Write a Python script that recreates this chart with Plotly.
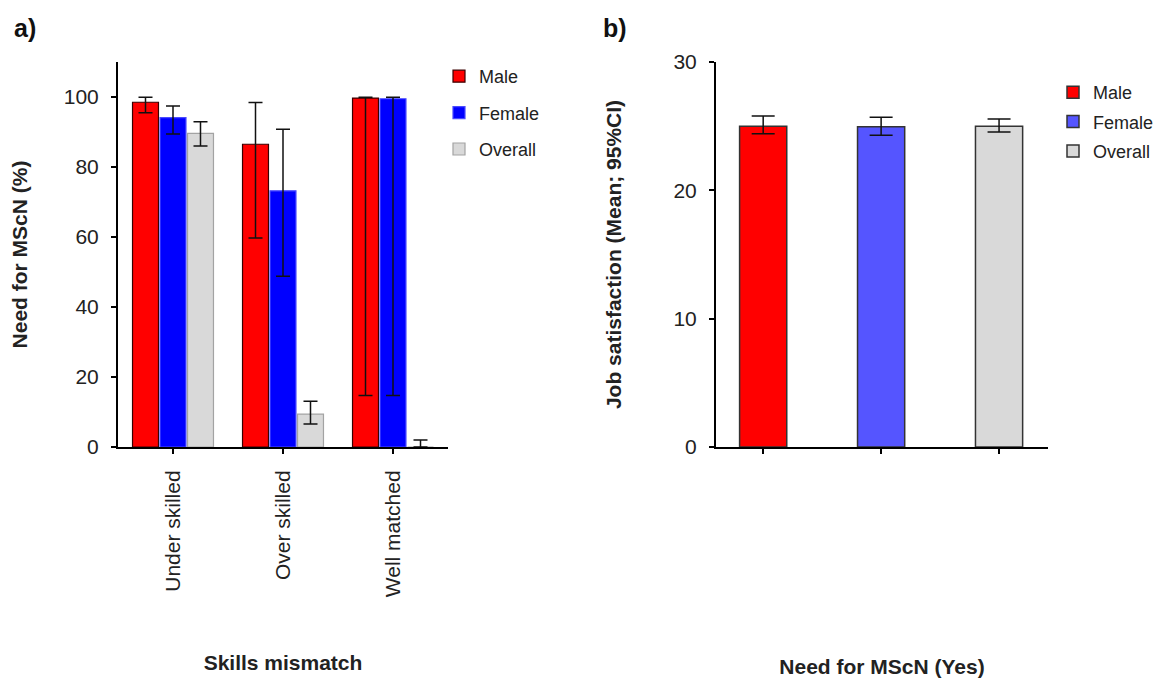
import plotly.graph_objects as go

# ---------------- data ----------------
categories_a = ["Under skilled", "Over skilled", "Well matched"]
male_a = [98.5, 86.5, 99.7]
male_a_lo = [95.5, 59.7, 14.7]
male_a_hi = [99.9, 98.4, 99.9]
female_a = [94.1, 73.2, 99.5]
female_a_lo = [89.4, 48.8, 14.7]
female_a_hi = [97.4, 90.8, 99.9]
overall_a = [89.6, 9.4, 0.0]
overall_a_lo = [86.0, 6.6, 0.0]
overall_a_hi = [92.9, 13.1, 2.0]

categories_b = ["Male", "Female", "Overall"]
mean_b = [25.0, 24.95, 25.0]
lo_b = [24.4, 24.3, 24.55]
hi_b = [25.8, 25.7, 25.55]

yticks_a = [0, 20, 40, 60, 80, 100]
yticks_b = [0, 10, 20, 30]

FONT = "Liberation Sans, Arial, Helvetica, sans-serif"
W, H = 1161, 686
PAGE_OFF = 8  # default page margin around the plot div

def px_x(p):
    return (p - PAGE_OFF) / W

def px_y(p):
    return 1 - (p - PAGE_OFF) / H

fig = go.Figure()

# ---------------- panel a ----------------
series_a = [
    ("Male", male_a, male_a_lo, male_a_hi, "#ff0000", "#3a0000", -0.368),
    ("Female", female_a, female_a_lo, female_a_hi, "#0000ff", "#4a4aff", -0.118),
    ("Overall", overall_a, overall_a_lo, overall_a_hi, "#d9d9d9", "#a3a3a3", 0.132),
]
for name, vals, lo, hi, col, edge, off in series_a:
    fig.add_trace(go.Bar(
        x=categories_a, y=vals, name=name,
        width=0.236, offset=off,
        marker=dict(color=col, line=dict(color=edge, width=1.2)),
        error_y=dict(type="data", symmetric=False,
                     array=[h - v for h, v in zip(hi, vals)],
                     arrayminus=[v - l for v, l in zip(vals, lo)],
                     color="#111111", thickness=1.5, width=7),
        xaxis="x", yaxis="y", legend="legend",
    ))

# ---------------- panel b ----------------
colors_b = ["#ff0000", "#5555ff", "#d9d9d9"]
for i, name in enumerate(categories_b):
    fig.add_trace(go.Bar(
        x=[categories_b[i]], y=[mean_b[i]], name=name,
        width=0.4, offset=-0.2,
        marker=dict(color=colors_b[i], line=dict(color="#333333", width=1.5)),
        error_y=dict(type="data", symmetric=False,
                     array=[hi_b[i] - mean_b[i]],
                     arrayminus=[mean_b[i] - lo_b[i]],
                     color="#111111", thickness=1.5, width=11.5),
        xaxis="x2", yaxis="y2", legend="legend2",
    ))

axis_common = dict(
    showline=True, linecolor="black", linewidth=2,
    ticks="outside", ticklen=5, tickwidth=2, tickcolor="black",
    showgrid=False, zeroline=False, automargin=False,
    tickfont=dict(family=FONT, size=21, color="#222222"),
)

fig.update_layout(
    width=W, height=H,
    margin=dict(l=0, r=0, t=0, b=0, autoexpand=False),
    paper_bgcolor="white", plot_bgcolor="white",
    barmode="group",
    font=dict(family=FONT, color="#222222"),
    xaxis=dict(
        domain=[px_x(118), px_x(448)], anchor="y",
        type="category", range=[-0.5, 2.5],
        tickangle=-90, ticklabelstandoff=8,
        title=dict(text="<b>Skills mismatch</b>", standoff=59,
                   font=dict(family=FONT, size=21, color="#222222")),
        **axis_common,
    ),
    yaxis=dict(
        domain=[px_y(447), px_y(62)], anchor="x",
        range=[0, 110], tickvals=yticks_a, ticklabelstandoff=8,
        title=dict(text="<b>Need for MScN (%)</b>", standoff=35,
                   font=dict(family=FONT, size=21, color="#222222")),
        **axis_common,
    ),
    xaxis2=dict(
        domain=[px_x(716), px_x(1048)], anchor="y2",
        type="category", range=[-0.4, 2.415],
        showticklabels=False,
        title=dict(text="<b>Need for MScN (Yes)</b>", standoff=206,
                   font=dict(family=FONT, size=21, color="#222222")),
        **axis_common,
    ),
    yaxis2=dict(
        domain=[px_y(447), px_y(62)], anchor="x2",
        range=[0, 30], tickvals=yticks_b, ticklabelstandoff=8,
        title=dict(text="<b>Job satisfaction (Mean; 95%CI)</b>", standoff=46,
                   font=dict(family=FONT, size=21, color="#222222")),
        **axis_common,
    ),
    legend=dict(
        x=px_x(439), y=px_y(58), xanchor="left", yanchor="top",
        font=dict(family=FONT, size=18, color="#222222"),
        bgcolor="rgba(0,0,0,0)", tracegroupgap=10, traceorder="grouped",
        itemclick=False,
    ),
    legend2=dict(
        x=px_x(1053), y=px_y(74), xanchor="left", yanchor="top",
        font=dict(family=FONT, size=18, color="#222222"),
        bgcolor="rgba(0,0,0,0)", tracegroupgap=3, traceorder="grouped",
        itemclick=False,
    ),
    annotations=[
        dict(text="<b>a)</b>", x=px_x(12), y=px_y(28), xref="paper", yref="paper",
             xanchor="left", yanchor="middle", showarrow=False,
             font=dict(family=FONT, size=25, color="#111111")),
        dict(text="<b>b)</b>", x=px_x(601), y=px_y(28), xref="paper", yref="paper",
             xanchor="left", yanchor="middle", showarrow=False,
             font=dict(family=FONT, size=25, color="#111111")),
    ],
)

# give each trace its own legend group so tracegroupgap spaces the entries
for i, tr in enumerate(fig.data):
    tr.legendgroup = f"g{i}"

fig.write_html("out.html")
